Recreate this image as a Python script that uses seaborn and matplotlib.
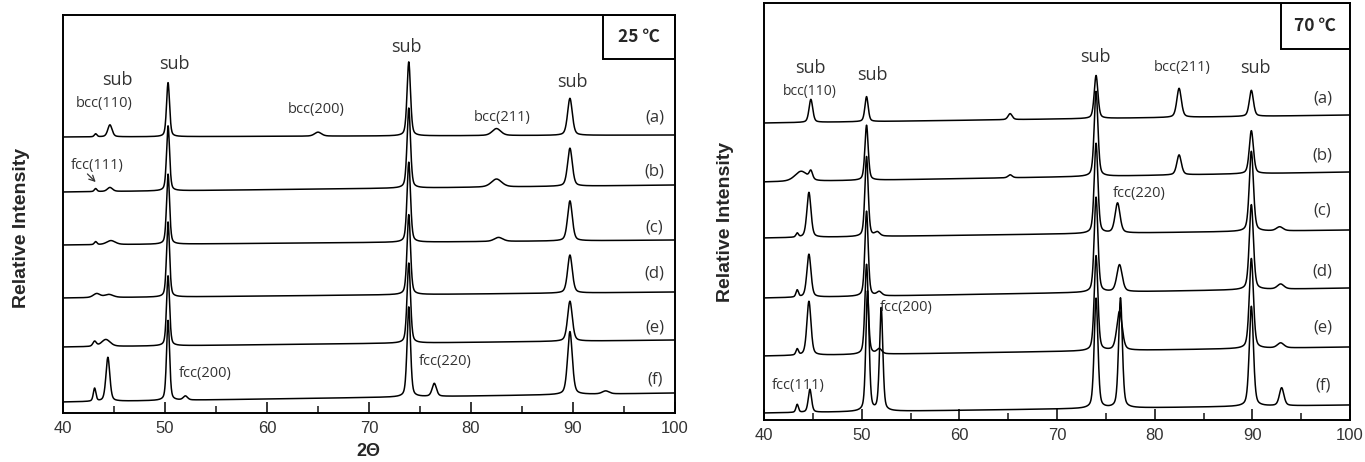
import numpy as np
import pandas as pd
import seaborn as sns
import matplotlib.pyplot as plt
from matplotlib.patches import Rectangle
from matplotlib.ticker import MultipleLocator

# ---- data ----
samples = ["a", "b", "c", "d", "e", "f"]

# 25 C panel: baseline level at 40 and at 100 deg, then peaks (2theta, height, FWHM)
base25_start = [276, 221, 168, 115, 66, 11]
base25_end = [278, 228, 173, 121, 73, 20]
pos25 = [
    [43.2, 44.6, 50.3, 65.0, 73.9, 82.5, 89.7],
    [43.2, 44.6, 50.3, 73.9, 82.5, 89.7],
    [43.2, 44.7, 50.3, 73.9, 82.7, 89.7],
    [43.3, 44.5, 50.3, 73.9, 89.7],
    [43.1, 44.2, 50.3, 73.9, 89.7],
    [43.1, 44.4, 50.3, 52.0, 73.9, 76.4, 89.7, 93.2],
]
height25 = [
    [3, 12, 54, 4, 74, 7, 37],
    [3, 4, 65, 80, 8, 38],
    [3, 4, 70, 80, 4, 40],
    [4, 3, 75, 80, 38],
    [5, 7, 70, 80, 40],
    [13, 44, 80, 4, 90, 13, 63, 3],
]
width25 = [
    [0.3, 0.5, 0.35, 0.8, 0.4, 1.0, 0.55],
    [0.3, 0.6, 0.35, 0.4, 1.2, 0.55],
    [0.3, 1.0, 0.35, 0.4, 1.0, 0.55],
    [0.8, 1.0, 0.35, 0.4, 0.55],
    [0.4, 1.0, 0.35, 0.4, 0.55],
    [0.3, 0.45, 0.35, 0.5, 0.4, 0.5, 0.55, 0.8],
]

# 70 C panel
base70_start = [297, 238, 182, 122, 64, 7]
base70_end = [305, 248, 190, 132, 73, 15]
pos70 = [
    [44.8, 50.5, 65.2, 74.0, 82.5, 89.9],
    [43.8, 44.8, 50.5, 65.2, 74.0, 82.5, 89.9],
    [43.4, 44.6, 50.5, 51.6, 74.0, 76.2, 89.9, 92.8],
    [43.4, 44.6, 50.5, 51.8, 74.0, 76.4, 89.9, 92.9],
    [43.4, 44.6, 50.5, 51.8, 74.0, 76.4, 89.9, 92.9],
    [43.4, 44.7, 50.6, 52.0, 74.0, 76.5, 89.9, 93.0],
]
height70 = [
    [23, 25, 6, 43, 29, 26],
    [10, 8, 55, 3, 85, 20, 43],
    [4, 45, 80, 4, 90, 30, 80, 4],
    [7, 43, 85, 4, 95, 27, 85, 5],
    [6, 54, 90, 5, 95, 39, 90, 5],
    [8, 23, 120, 103, 110, 110, 100, 18],
]
width70 = [
    [0.45, 0.4, 0.5, 0.45, 0.55, 0.5],
    [1.5, 0.4, 0.4, 0.5, 0.45, 0.55, 0.5],
    [0.3, 0.5, 0.4, 0.6, 0.45, 0.6, 0.5, 0.8],
    [0.3, 0.5, 0.4, 0.6, 0.45, 0.65, 0.5, 0.8],
    [0.3, 0.5, 0.4, 0.6, 0.45, 0.65, 0.5, 0.8],
    [0.3, 0.4, 0.4, 0.4, 0.45, 0.45, 0.5, 0.55],
]

# label positions for (a)-(f)
tag25_y = [296, 241, 186, 140, 86, 33]
tag70_y = [322, 265, 210, 148, 92, 35]

ann25 = [("sub", 45.3, 333, 13), ("bcc(110)", 44.0, 309, 10.5), ("sub", 50.9, 349, 13),
         ("bcc(200)", 64.8, 303, 10.5), ("sub", 73.7, 366, 13), ("bcc(211)", 83.1, 295, 10.5),
         ("sub", 89.9, 331, 13), ("fcc(111)", 43.4, 247, 10.5), ("fcc(200)", 53.9, 40, 10.5),
         ("fcc(220)", 77.5, 51, 10.5)]
ann70 = [("sub", 44.7, 352, 13), ("bcc(110)", 44.7, 329, 10), ("sub", 51.1, 345, 13),
         ("sub", 73.9, 363, 13), ("bcc(211)", 82.8, 353, 10.5), ("sub", 90.3, 352, 13),
         ("fcc(220)", 78.4, 227, 10.5), ("fcc(200)", 54.6, 112, 10.5), ("fcc(111)", 43.5, 35, 10.5)]


def pattern(x, b0, b1, pos, hts, wds):
    y = b0 + (b1 - b0) * (x - 40) / 60.0
    for p, h, w in zip(pos, hts, wds):
        d = (x - p) / w
        y = y + h * (0.4 / (1 + 4 * d ** 2) + 0.6 * np.exp(-4 * np.log(2) * d ** 2))
    return y


def make_frame(b0s, b1s, poss, hts, wds):
    x = np.linspace(40, 100, 3001)
    rows = []
    for s, b0, b1, p, h, w in zip(samples, b0s, b1s, poss, hts, wds):
        rows.append(pd.DataFrame({"two_theta": x, "intensity": pattern(x, b0, b1, p, h, w), "sample": s}))
    return pd.concat(rows, ignore_index=True)


df25 = make_frame(base25_start, base25_end, pos25, height25, width25)
df70 = make_frame(base70_start, base70_end, pos70, height70, width70)

sns.set_style("white")
plt.rcParams["font.family"] = ["Liberation Sans", "DejaVu Sans"]

W, H = 1365, 462
fig = plt.figure(figsize=(W / 100, H / 100), dpi=100)
ax1 = fig.add_axes([63 / W, (H - 413) / H, (675 - 63) / W, (413 - 15) / H])
ax2 = fig.add_axes([764 / W, (H - 420) / H, (1350 - 764) / W, (420 - 3) / H])

ann_font = ["Open Sans", "DejaVu Sans"]


def style_panel(ax, df, ytop, temp, tags_y, tag_x, anns):
    sns.lineplot(data=df, x="two_theta", y="intensity", units="sample", estimator=None,
                 color="black", lw=1.1, ax=ax, legend=False)
    ax.set_xlim(40, 100)
    ax.set_ylim(0, ytop)
    ax.set_xlabel("")
    ax.set_ylabel("")
    ax.set_yticks([])
    ax.xaxis.set_major_locator(MultipleLocator(10))
    ax.xaxis.set_minor_locator(MultipleLocator(5))
    ax.tick_params(axis="x", which="major", direction="in", length=8, width=1.3,
                   labelsize=12, labelcolor="#333333", pad=6, bottom=True)
    ax.tick_params(axis="x", which="minor", direction="in", length=5, width=1.2, bottom=True)
    for sp in ax.spines.values():
        sp.set_visible(True)
        sp.set_color("black")
        sp.set_linewidth(1.4)
    for s, ty in zip(samples, tags_y):
        ax.text(tag_x, ty, f"({s})", ha="center", va="center", fontsize=12,
                color="#333333", family=ann_font)
    for txt, x, y, fs in anns:
        ax.text(x, y, txt, ha="center", va="center", fontsize=fs, color="#333333", family=ann_font)
    ax.add_patch(Rectangle((0.882, 0.889), 0.118, 0.111, transform=ax.transAxes,
                           fill=False, ec="black", lw=1.4, zorder=5))
    ax.text(0.941, 0.945, temp, transform=ax.transAxes, ha="center", va="center",
            fontsize=12.5, fontweight="bold", family=["Noto Sans CJK KR", "DejaVu Sans"])


style_panel(ax1, df25, 398, "25 \u2103", tag25_y, 98.0, ann25)
style_panel(ax2, df70, 417, "70 \u2103", tag70_y, 97.2, ann70)

ax1.annotate("", xy=(43.4, 229), xytext=(42.2, 241),
             arrowprops=dict(arrowstyle="->", color="#333333", lw=0.9))

fig.text(22 / W, 1 - 228 / H, "Relative Intensity", rotation=90, ha="center", va="center",
         fontsize=14, fontweight="bold")
fig.text(725 / W, 1 - 222 / H, "Relative Intensity", rotation=90, ha="center", va="center",
         fontsize=14, fontweight="bold")
fig.text(368 / W, 2 / H, "2\u0398", ha="center", va="bottom", fontsize=13, fontweight="bold")

fig.savefig("out.png", dpi=100)
